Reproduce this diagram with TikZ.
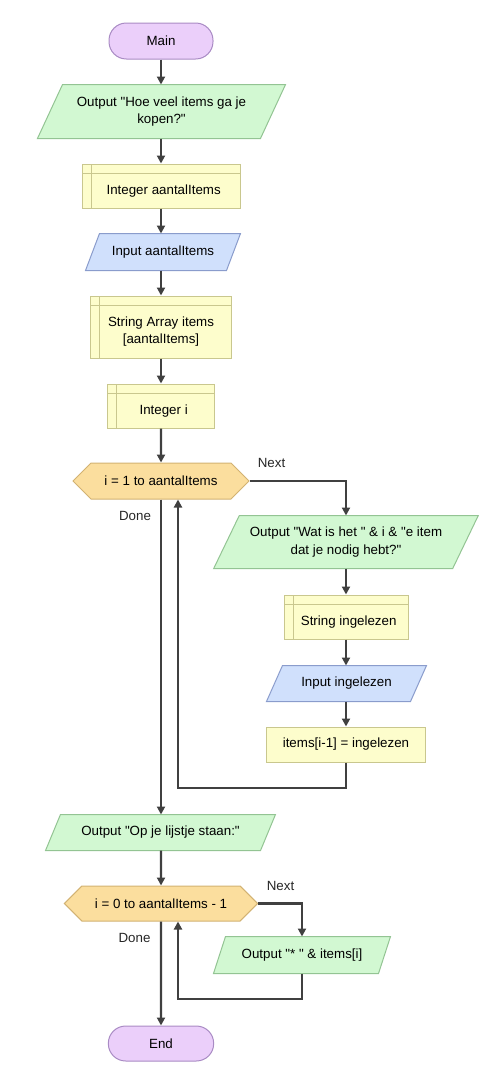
\documentclass[tikz,border=0pt]{standalone}
\usepackage{fontspec}
\setmainfont{Liberation Sans}
\usetikzlibrary{shapes.symbols,arrows.meta,backgrounds}

\definecolor{termfill}{HTML}{EBCFFA}
\definecolor{termline}{HTML}{A98BC4}
\definecolor{outfill}{HTML}{D2F8D2}
\definecolor{outline}{HTML}{93C493}
\definecolor{infill}{HTML}{D0E0FC}
\definecolor{inline}{HTML}{8A9CCC}
\definecolor{declfill}{HTML}{FDFDCC}
\definecolor{declline}{HTML}{C9C78E}
\definecolor{loopfill}{HTML}{FBDE9E}
\definecolor{loopline}{HTML}{D2B272}
\definecolor{flowgray}{HTML}{404040}

\tikzset{
  base/.style={draw,line width=0.75pt,font=\fontsize{10}{13}\selectfont,align=center,inner sep=2pt},
  terminal/.style={base,rectangle,rounded corners=13pt,fill=termfill,draw=termline},
  % parallelograms are drawn behind these nodes
  iobox/.style={base,rectangle,draw=none},
  outshape/.style={draw=outline,fill=outfill,line width=0.75pt},
  inshape/.style={draw=inline,fill=infill,line width=0.75pt},
  assignbox/.style={base,rectangle,fill=declfill,draw=declline},
  declbox/.style={assignbox,path picture={
    \draw[declline,line width=0.75pt] ([xshift=6.75pt]path picture bounding box.north west)
      -- ([xshift=6.75pt]path picture bounding box.south west);
    \draw[declline,line width=0.75pt] ([yshift=-6.75pt]path picture bounding box.north west)
      -- ([yshift=-6.75pt]path picture bounding box.north east);}},
  declone/.style={declbox,text height=14pt,text depth=2pt},
  loopbox/.style={base,signal,signal to=west and east,signal pointer angle=90,
    fill=loopfill,draw=loopline},
  flow/.style={line width=1.6pt,draw=flowgray,-{Triangle[length=6pt,width=6pt]}},
  lbl/.style={font=\fontsize{10}{12}\selectfont,text=black!85}
}

\begin{document}
\begin{tikzpicture}[x=0.75pt,y=-0.75pt]
\path (0,0) rectangle (502,1089);
% main column
\node[terminal,minimum width=78pt,minimum height=27pt] (main) at (161,41) {Main};
\node[iobox,minimum width=166.5pt,minimum height=39.75pt] (out1) at (161.5,111.5)
  {Output \textquotedbl Hoe veel items ga je\\kopen?\textquotedbl};
\node[declone,minimum width=118.5pt,minimum height=33pt] (dec1) at (161,186) {\hspace*{4pt}Integer aantalItems};
\node[iobox,minimum width=105pt,minimum height=27pt] (in1) at (163,252) {Input aantalItems};
\node[declbox,minimum width=106pt,minimum height=46.5pt] (dec2) at (161,327)
  {\rule{0pt}{14pt}String Array items\\{}[aantalItems]};
\node[declone,minimum width=80pt,minimum height=33pt] (dec3) at (161,406) {\hspace*{4pt}Integer i};
\node[loopbox,minimum width=132pt,minimum height=27pt] (loop1) at (161,481) {i = 1 to aantalItems};
% loop body
\node[iobox,minimum width=178.5pt,minimum height=39pt] (out2) at (346,542)
  {Output \textquotedbl Wat is het \textquotedbl{} \& i \& \textquotedbl e item\\dat je nodig hebt?\textquotedbl};
\node[declone,minimum width=93pt,minimum height=33pt] (dec4) at (346,617) {\hspace*{4pt}String ingelezen};
\node[iobox,minimum width=107.25pt,minimum height=26.25pt] (in2) at (346.5,683.5) {Input ingelezen};
\node[assignbox,minimum width=119pt,minimum height=26.25pt] (asg) at (346,744.5) {items[i-1] = ingelezen};
\coordinate (r1) at (178,788);
% second loop
\node[iobox,minimum width=160.5pt,minimum height=26.25pt] (out3) at (160.5,832.5)
  {Output \textquotedbl Op je lijstje staan:\textquotedbl};
\node[loopbox,minimum width=145pt,minimum height=26.25pt] (loop2) at (161,903.5) {i = 0 to aantalItems - 1};
\node[iobox,minimum width=123pt,minimum height=27pt] (out4) at (302,955)
  {Output \textquotedbl * \textquotedbl{} \& items[i]};
\coordinate (r2) at (178,999);
\node[terminal,minimum width=79pt,minimum height=26.25pt] (end) at (161,1043.5) {End};
% parallelograms
\begin{scope}[on background layer]
\draw[outshape] ([xshift=9.4pt]out1.north west) -- ([xshift=9.4pt]out1.north east)
  -- ([xshift=-9.4pt]out1.south east) -- ([xshift=-9.4pt]out1.south west) -- cycle;
\draw[inshape] ([xshift=5.25pt]in1.north west) -- ([xshift=5.25pt]in1.north east)
  -- ([xshift=-5.25pt]in1.south east) -- ([xshift=-5.25pt]in1.south west) -- cycle;
\draw[outshape] ([xshift=9.6pt]out2.north west) -- ([xshift=9.6pt]out2.north east)
  -- ([xshift=-9.6pt]out2.south east) -- ([xshift=-9.6pt]out2.south west) -- cycle;
\draw[inshape] ([xshift=6pt]in2.north west) -- ([xshift=6pt]in2.north east)
  -- ([xshift=-6pt]in2.south east) -- ([xshift=-6pt]in2.south west) -- cycle;
\draw[outshape] ([xshift=5.6pt]out3.north west) -- ([xshift=5.6pt]out3.north east)
  -- ([xshift=-5.6pt]out3.south east) -- ([xshift=-5.6pt]out3.south west) -- cycle;
\draw[outshape] ([xshift=4.5pt]out4.north west) -- ([xshift=4.5pt]out4.north east)
  -- ([xshift=-4.5pt]out4.south east) -- ([xshift=-4.5pt]out4.south west) -- cycle;
\end{scope}
% labels
\node[lbl] (next1) at (271.5,463) {Next};
\node[lbl] (done1) at (135,516) {Done};
\node[lbl] (next2) at (280.5,886) {Next};
\node[lbl] (done2) at (134.5,938) {Done};
% connectors
\draw[flow] (main) -- (main |- out1.north);
\draw[flow] (main |- out1.south) -- (dec1);
\draw[flow] (dec1) -- (dec1 |- in1.north);
\draw[flow] (dec1 |- in1.south) -- (dec2);
\draw[flow] (dec2) -- (dec3);
\draw[flow] (dec3) -- (loop1);
\draw[flow] (loop1.east) -| (out2.north);
\draw[flow] (out2) -- (dec4);
\draw[flow] (dec4) -- (dec4 |- in2.north);
\draw[flow] (dec4 |- in2.south) -- (asg);
\draw[flow] (asg.south) |- (r1) -- (r1 |- loop1.south);
\draw[flow] (loop1.south) -- (loop1 |- out3.north);
\draw[flow] (loop1 |- out3.south) -- (loop2);
\draw[flow] (loop2.east) -| (out4.north);
\draw[flow] (out4.south) |- (r2) -- (r2 |- loop2.south);
\draw[flow] (loop2) -- (end);
\end{tikzpicture}
\end{document}
